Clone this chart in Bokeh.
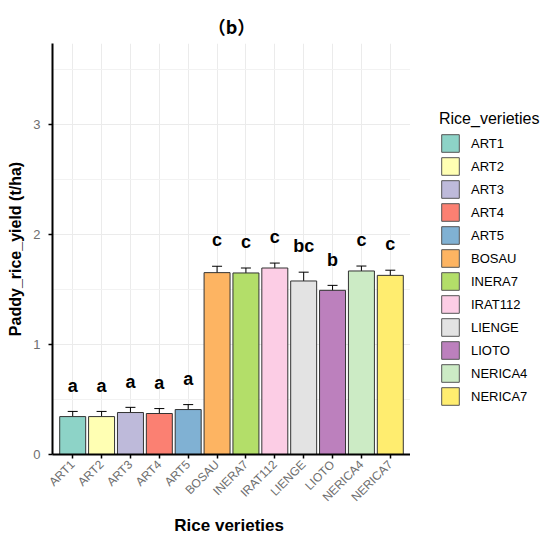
import numpy as np
from bokeh.plotting import figure
from bokeh.layouts import row
from bokeh.models import (ColumnDataSource, FactorRange, Range1d, Whisker, TeeHead,
                          SingleIntervalTicker, Legend, LegendItem)
from bokeh.core.properties import value
from bokeh.embed import file_html
from bokeh.resources import INLINE

varieties = ["ART1", "ART2", "ART3", "ART4", "ART5", "BOSAU", "INERA7", "IRAT112",
             "LIENGE", "LIOTO", "NERICA4", "NERICA7"]
yield_mean = [0.345, 0.345, 0.382, 0.373, 0.409, 1.655, 1.652, 1.697, 1.579, 1.494, 1.670, 1.630]
yield_se = [0.047, 0.047, 0.047, 0.045, 0.045, 0.058, 0.045, 0.045, 0.080, 0.045, 0.045, 0.047]
letters = ["a", "a", "a", "a", "a", "c", "c", "c", "bc", "b", "c", "c"]
colors = ["#8DD3C7", "#FFFFB3", "#BEBADA", "#FB8072", "#80B1D3", "#FDB462",
          "#B3DE69", "#FCCDE5", "#E3E3E3", "#BC80BD", "#CCEBC5", "#FFED6F"]

FONT = "'Liberation Sans', Arial, 'Noto Sans CJK SC'"
TFONT = "'Noto Sans CJK SC', 'Liberation Sans'"

mean = np.array(yield_mean)
se = np.array(yield_se)
src = ColumnDataSource(dict(
    x=varieties, top=mean, upper=mean + se, lower=mean - se,
    ly=mean + se + 0.235, lab=letters, color=colors,
))

x_range = FactorRange(factors=varieties, range_padding=0.2, range_padding_units="absolute")
p = figure(x_range=x_range, y_range=Range1d(0, 3.74), width=410, height=538,
           output_backend="svg", toolbar_location=None,
           min_border_left=52, min_border_right=0, min_border_top=43, min_border_bottom=80)
p.title.text = "（b）"
p.title.align = "center"
p.title.text_font = TFONT
p.title.text_font_size = "18px"
p.title.text_font_style = "bold"
p.title.text_color = "black"
p.outline_line_color = None
p.background_fill_color = "white"

bars = p.vbar(x="x", top="top", width=0.9, bottom=0, source=src, fill_color="color",
              line_color="#333333", line_width=1)

w = Whisker(base="x", upper="upper", lower="lower", source=src, line_color="black", line_width=1,
            upper_head=TeeHead(size=10, line_color="black", line_width=1),
            lower_head=TeeHead(size=10, line_color="black", line_width=1))
p.add_layout(w)

p.text(x="x", y="ly", text="lab", source=src, text_align="center", text_baseline="middle",
       text_font=value(FONT), text_font_size="18px", text_font_style="bold", text_color="black")

# axes
p.yaxis.ticker = SingleIntervalTicker(interval=1, num_minor_ticks=2)
p.ygrid.ticker = SingleIntervalTicker(interval=1, num_minor_ticks=2)
for ax in (p.xaxis[0], p.yaxis[0]):
    ax.axis_line_color = "black"
    ax.axis_line_width = 2
    ax.major_tick_line_color = "black"
    ax.major_tick_line_width = 1.5
    ax.major_tick_out = 4
    ax.major_tick_in = 0
    ax.minor_tick_line_color = None
    ax.major_label_text_color = "#6E6E6E"
    ax.major_label_text_font = FONT
    ax.axis_label_text_font = FONT
    ax.axis_label_text_font_style = "bold"
    ax.axis_label_text_color = "black"

p.yaxis.axis_label = "Paddy_rice_yield (t/ha)"
p.yaxis.axis_label_text_font_size = "16px"
p.yaxis.major_label_text_font_size = "13px"
p.yaxis.major_label_standoff = 8
p.yaxis.axis_label_standoff = 6

p.xaxis.axis_label = "Rice  verieties"
p.xaxis.axis_label_text_font_size = "17px"
p.xaxis.major_label_text_font_size = "12px"
p.xaxis.major_label_orientation = np.pi / 4
p.xaxis.major_label_standoff = 4
p.xaxis.axis_label_standoff = 4

p.xgrid.grid_line_color = "#EBEBEB"
p.xgrid.grid_line_width = 1
p.ygrid.grid_line_color = "#EBEBEB"
p.ygrid.grid_line_width = 1
p.ygrid.minor_grid_line_color = "#F2F2F2"
p.ygrid.minor_grid_line_width = 1

# legend panel (separate figure to the right of the plot)
lg = figure(x_range=FactorRange(factors=varieties), y_range=Range1d(10, 11), width=139, height=538,
            output_backend="svg", toolbar_location=None,
            min_border_left=0, min_border_right=0, min_border_top=0, min_border_bottom=0)
lg.axis.visible = False
lg.grid.visible = False
lg.outline_line_color = None
key_bars = lg.vbar(x="x", top="top", width=0.9, bottom=0, source=src, fill_color="color",
                   line_color="#555555", line_width=1)
key_bars.visible = False
items = [LegendItem(label=v, renderers=[key_bars], index=i) for i, v in enumerate(varieties)]
legend = Legend(items=items, location=(29, 47), title="Rice_verieties",
                title_text_font=FONT, title_text_font_size="16px", title_text_font_style="normal",
                title_text_color="black", title_standoff=4,
                label_text_font=FONT, label_text_font_size="13px", label_text_color="black",
                glyph_width=22, glyph_height=22, spacing=1, label_standoff=10,
                label_height=22, padding=10, margin=0,
                inactive_fill_alpha=0,
                border_line_color=None, background_fill_alpha=0)
lg.add_layout(legend, "center")

layout = row(p, lg)
open("out.html", "w").write(file_html(layout, INLINE))
